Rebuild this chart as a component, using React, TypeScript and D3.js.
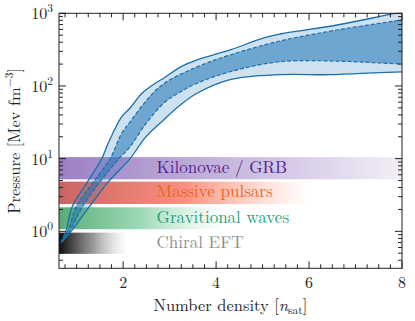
import React from 'react';
import * as d3 from 'd3';

// pressure bands, [n/n_sat, P in MeV fm^-3]
const outerUpper: [number, number][] = [
  [0.65, 0.68], [0.77, 1.0], [0.9, 2.17], [1.23, 4.78], [1.54, 10], [1.68, 16.4],
  [1.97, 37.8], [2.15, 49.8], [2.4, 79], [2.69, 109], [2.87, 128], [3.23, 182],
  [3.59, 228], [4.3, 313], [5.01, 457], [5.38, 519], [6.6, 690], [7.68, 948], [8.0, 1042],
];
const innerUpper: [number, number][] = [
  [0.66, 0.69], [0.82, 1.04], [0.99, 2.17], [1.36, 4.78], [1.72, 10], [1.97, 22.4],
  [2.15, 32], [2.51, 64], [2.87, 107], [3.59, 183], [4.3, 267], [5.38, 416],
  [6.6, 589], [8.0, 809],
];
const innerLower: [number, number][] = [
  [0.67, 0.7], [0.86, 1.04], [1.12, 2.17], [1.5, 4.78], [1.91, 10], [2.15, 14.6],
  [2.47, 29.1], [2.87, 57.8], [3.23, 82.7], [3.59, 109], [4.3, 157], [5.38, 216],
  [6.88, 217], [7.53, 207], [8.0, 201],
];
const outerLower: [number, number][] = [
  [0.68, 0.71], [0.9, 1.04], [1.27, 2.17], [1.68, 4.78], [2.15, 10], [2.47, 19.3],
  [2.87, 34.1], [3.23, 54.8], [3.59, 79.4], [4.3, 122], [5.38, 143], [6.45, 143],
  [7.53, 153], [8.0, 156],
];

// constraint bars
const constraintNames = ['Kilonovae / GRB', 'Massive pulsars', 'Gravitional waves', 'Chiral EFT'];
const constraintLow = [5.2, 2.38, 1.07, 0.49];
const constraintHigh = [10.5, 4.83, 2.14, 0.96];
const constraintNmax = [8.0, 6.0, 4.2, 2.1];
const constraintText = ['#52208f', '#e8641e', '#1b9e77', '#8c8c8c'];
const constraintStops = [
  [['#7a55b0', 0.75], ['#7a55b0', 0.42], ['#7a55b0', 0.1]],
  [['#c04848', 0.85], ['#f86a52', 0.75], ['#ff9a80', 0]],
  [['#2a9450', 0.78], ['#3cb46e', 0.5], ['#8cdcaa', 0]],
  [['#000000', 0.95], ['#333333', 0.5], ['#aaaaaa', 0]],
];

const xTicks = [2, 4, 6, 8];
const yTicks = [1, 10, 100, 1000];
const yTickExp = ['0', '1', '2', '3'];

const W = 415;
const H = 321;
const M = { left: 59, right: 13, top: 13.3, bottom: 52.7 };
const FONT = "'Latin Modern Roman'";

export default function App() {
  const x = d3.scaleLinear().domain([0.62, 8]).range([M.left, W - M.right]);
  const y = d3.scaleLog().domain([0.31, 1000]).range([H - M.bottom, M.top]);
  const line = d3.line<[number, number]>()
    .x(d => x(d[0]))
    .y(d => y(d[1]))
    .curve(d3.curveCatmullRom.alpha(0.5));

  const band = (up: [number, number][], lo: [number, number][]) =>
    (line(up) as string) + 'L' + (line([...lo].reverse()) as string).slice(1) + 'Z';

  const x0 = M.left, x1 = W - M.right, y0 = M.top, y1 = H - M.bottom;

  const xMinor: number[] = [];
  for (let v = 0.75; v < 8.001; v += 0.25) if (Math.abs(v / 2 - Math.round(v / 2)) > 1e-6) xMinor.push(v);
  const yMinor: number[] = [];
  for (let e = -1; e < 3; e++) for (let k = 2; k <= 9; k++) {
    const v = k * Math.pow(10, e);
    if (v >= 0.31 && v <= 1000) yMinor.push(v);
  }

  return (
    <svg width={W} height={H} style={{ position: 'absolute', left: 0, top: 0, fontFamily: FONT }}>
      <defs>
        <clipPath id="plot"><rect x={x0} y={y0} width={x1 - x0} height={y1 - y0} /></clipPath>
        {constraintStops.map((st, i) => (
          <linearGradient key={i} id={`g${i}`} gradientUnits="userSpaceOnUse"
            x1={x0} x2={x(constraintNmax[i])} y1={0} y2={0}>
            {st.map((s, j) => (
              <stop key={j} offset={j / (st.length - 1)} stopColor={s[0] as string} stopOpacity={s[1] as number} />
            ))}
          </linearGradient>
        ))}
      </defs>

      <g clipPath="url(#plot)">
        {constraintNames.map((n, i) => (
          <rect key={n} x={x0} y={y(constraintHigh[i])} width={x(constraintNmax[i]) - x0}
            height={y(constraintLow[i]) - y(constraintHigh[i])} fill={`url(#g${i})`} />
        ))}
        <path d={band(outerUpper, outerLower)} fill="#1f77b4" fillOpacity={0.22} />
        <path d={band(innerUpper, innerLower)} fill="#1f77b4" fillOpacity={0.55} />
        <path d={line(outerUpper) as string} fill="none" stroke="#1a6fae" strokeWidth={1.3} />
        <path d={line(outerLower) as string} fill="none" stroke="#1a6fae" strokeWidth={1.3} />
        <path d={line(innerUpper) as string} fill="none" stroke="#1a6fae" strokeWidth={1.2} strokeDasharray="4,2" />
        <path d={line(innerLower) as string} fill="none" stroke="#1a6fae" strokeWidth={1.2} strokeDasharray="4,2" />
        {constraintNames.map((n, i) => (
          <text key={n} x={x(2.72)} y={Math.sqrt(y(constraintLow[i]) * y(constraintHigh[i])) + 4.8}
            fontSize={17} fill={constraintText[i]}>{n}</text>
        ))}
      </g>

      {/* frame and ticks */}
      <rect x={x0} y={y0} width={x1 - x0} height={y1 - y0} fill="none" stroke="#222" strokeWidth={1} />
      {xTicks.map(t => (
        <g key={t}>
          <line x1={x(t)} x2={x(t)} y1={y1} y2={y1 - 7} stroke="#222" />
          <line x1={x(t)} x2={x(t)} y1={y0} y2={y0 + 7} stroke="#222" />
          <text x={x(t)} y={y1 + 20} textAnchor="middle" fontSize={16} fill="#222">{t}</text>
        </g>
      ))}
      {xMinor.map(t => (
        <g key={t}>
          <line x1={x(t)} x2={x(t)} y1={y1} y2={y1 - 4} stroke="#222" />
          <line x1={x(t)} x2={x(t)} y1={y0} y2={y0 + 4} stroke="#222" />
        </g>
      ))}
      {yTicks.map((t, i) => (
        <g key={t}>
          <line x1={x0} x2={x0 + 7} y1={y(t)} y2={y(t)} stroke="#222" />
          <line x1={x1} x2={x1 - 7} y1={y(t)} y2={y(t)} stroke="#222" />
          <text x={x0 - 6} y={y(t) + 6} textAnchor="end" fontSize={16} fill="#222">
            10<tspan fontSize={11.5} dy={-7}>{yTickExp[i]}</tspan>
          </text>
        </g>
      ))}
      {yMinor.map(t => (
        <g key={t}>
          <line x1={x0} x2={x0 + 4} y1={y(t)} y2={y(t)} stroke="#222" />
          <line x1={x1} x2={x1 - 4} y1={y(t)} y2={y(t)} stroke="#222" />
        </g>
      ))}

      <text x={(x0 + x1) / 2} y={H - 10} textAnchor="middle" fontSize={16.5} fill="#222">
        Number density [<tspan fontStyle="italic">n</tspan><tspan fontSize={11.5} dy={3}>sat</tspan><tspan dy={-3}>]</tspan>
      </text>
      <text transform={`translate(20,${(y0 + y1) / 2}) rotate(-90)`} textAnchor="middle" fontSize={16.5} fill="#222">
        Pressure [Mev fm<tspan fontSize={11.5} dy={-7}>−3</tspan><tspan dy={7}>]</tspan>
      </text>
    </svg>
  );
}
